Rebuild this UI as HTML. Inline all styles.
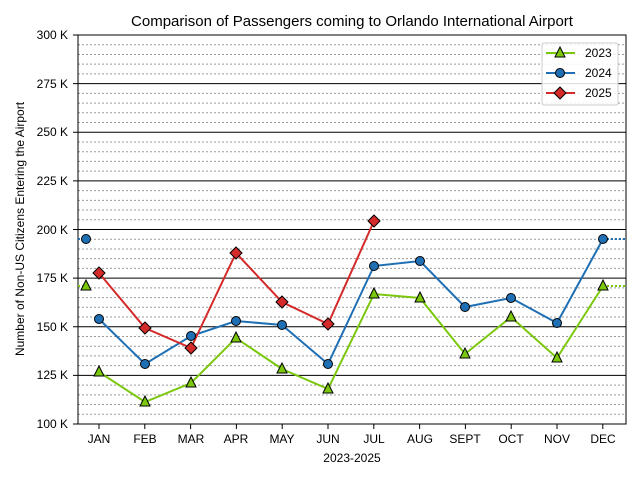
<!DOCTYPE html>
<html><head><style>body{margin:0;background:#fff}svg{display:block;font-family:"Liberation Sans",sans-serif}</style></head><body>
<svg width="640" height="480" xmlns="http://www.w3.org/2000/svg">
<rect width="640" height="480" fill="#fff"/>
<g id="minor" stroke="#999" stroke-dasharray="2,2" stroke-width="1">
</g>
<script>
var g=document.getElementById('minor'),ns="http://www.w3.org/2000/svg";
for(var v=100;v<=300;v+=5){var y=424-(v-100)*389/200;var l=document.createElementNS(ns,'line');l.setAttribute('x1',78);l.setAttribute('x2',626);l.setAttribute('y1',y);l.setAttribute('y2',y);
if(v%25==0){l.setAttribute('stroke','#000');l.setAttribute('stroke-dasharray','none');l.setAttribute('x1',73);}g.appendChild(l);}
for(var i=0;i<12;i++){var x=99+45.8*i;var t=document.createElementNS(ns,'line');t.setAttribute('x1',x);t.setAttribute('x2',x);t.setAttribute('y1',424);t.setAttribute('y2',429);t.setAttribute('stroke','#000');t.setAttribute('stroke-dasharray','none');g.appendChild(t);}
</script>
<rect x="78" y="35" width="548" height="389" fill="none" stroke="#000"/>
<g font-size="12" text-anchor="end" fill="#000">
<text x="68" y="39">300 K</text><text x="68" y="88">275 K</text><text x="68" y="136">250 K</text><text x="68" y="185">225 K</text><text x="68" y="234">200 K</text><text x="68" y="282">175 K</text><text x="68" y="331">150 K</text><text x="68" y="379">125 K</text><text x="68" y="428">100 K</text>
</g>
<g font-size="12" text-anchor="middle">
<text x="99" y="443">JAN</text><text x="145" y="443">FEB</text><text x="191" y="443">MAR</text><text x="236" y="443">APR</text><text x="282" y="443">MAY</text><text x="328" y="443">JUN</text><text x="374" y="443">JUL</text><text x="420" y="443">AUG</text><text x="465" y="443">SEPT</text><text x="511" y="443">OCT</text><text x="557" y="443">NOV</text><text x="603" y="443">DEC</text>
<text x="352" y="462">2023-2025</text>
<text x="352" y="26" font-size="15">Comparison of Passengers coming to Orlando International Airport</text>
<text transform="translate(24,229) rotate(-90)" font-size="12">Number of Non-US Citizens Entering the Airport</text>
</g>
<g stroke-width="1">
<line x1="78" y1="286" x2="86" y2="286" stroke="#7ac70c" stroke-dasharray="2,2" stroke-width="2"/>
<line x1="78" y1="239" x2="86" y2="239" stroke="#1f6fb5" stroke-dasharray="2,2" stroke-width="2"/>
<line x1="603" y1="286" x2="626" y2="286" stroke="#7ac70c" stroke-dasharray="2,2" stroke-width="2"/>
<line x1="603" y1="239" x2="626" y2="239" stroke="#1f6fb5" stroke-dasharray="2,2" stroke-width="2"/>
</g>
<polyline fill="none" stroke="#7ac70c" stroke-width="2" points="99,372 145,402 191,383 236,338 282,369 328,389 374,294 420,298 465,354 511,317 557,358 603,286"/>
<polyline fill="none" stroke="#1f6fb5" stroke-width="2" points="99,319 145,364 191,336 236,321 282,325 328,364 374,266 420,261 465,307 511,298 557,323 603,239"/>
<polyline fill="none" stroke="#d42a2a" stroke-width="2" points="99,273 145,328 191,348 236,253 282,302 328,324 374,221"/>
<g fill="#7ac70c" stroke="#000" stroke-width="1">
<script>
(function(){var pts=[[86,286],[99,372],[145,402],[191,383],[236,338],[282,369],[328,389],[374,294],[420,298],[465,354],[511,317],[557,358],[603,286]];var s=document.currentScript.parentNode;
pts.forEach(function(p){var e=document.createElementNS("http://www.w3.org/2000/svg",'polygon');e.setAttribute('points',(p[0])+','+(p[1]-6)+' '+(p[0]-5)+','+(p[1]+4)+' '+(p[0]+5)+','+(p[1]+4));s.appendChild(e);});})();
</script>
</g>
<g fill="#1f6fb5" stroke="#000" stroke-width="1">
<circle cx="86" cy="239" r="4.5"/><circle cx="99" cy="319" r="4.5"/><circle cx="145" cy="364" r="4.5"/><circle cx="191" cy="336" r="4.5"/><circle cx="236" cy="321" r="4.5"/><circle cx="282" cy="325" r="4.5"/><circle cx="328" cy="364" r="4.5"/><circle cx="374" cy="266" r="4.5"/><circle cx="420" cy="261" r="4.5"/><circle cx="465" cy="307" r="4.5"/><circle cx="511" cy="298" r="4.5"/><circle cx="557" cy="323" r="4.5"/><circle cx="603" cy="239" r="4.5"/>
</g>
<g fill="#d42a2a" stroke="#000" stroke-width="1">
<script>
(function(){var pts=[[99,273],[145,328],[191,348],[236,253],[282,302],[328,324],[374,221]];var s=document.currentScript.parentNode;
pts.forEach(function(p){var e=document.createElementNS("http://www.w3.org/2000/svg",'polygon');var x=p[0],y=p[1];e.setAttribute('points',x+','+(y-6)+' '+(x+6)+','+y+' '+x+','+(y+6)+' '+(x-6)+','+y);s.appendChild(e);});})();
</script>
</g>
<rect x="542" y="43" width="76" height="62" rx="2" fill="#fff" fill-opacity="0.85" stroke="#ccc"/>
<line x1="546" y1="53" x2="575" y2="53" stroke="#7ac70c" stroke-width="2"/>
<polygon points="560,47 555,57 565,57" fill="#7ac70c" stroke="#000"/>
<line x1="546" y1="73" x2="575" y2="73" stroke="#1f6fb5" stroke-width="2"/>
<circle cx="560" cy="73" r="4.5" fill="#1f6fb5" stroke="#000"/>
<line x1="546" y1="93" x2="575" y2="93" stroke="#d42a2a" stroke-width="2"/>
<polygon points="560,87 566,93 560,99 554,93" fill="#d42a2a" stroke="#000"/>
<g font-size="12"><text x="585" y="57">2023</text><text x="585" y="77">2024</text><text x="585" y="97">2025</text></g>
</svg>
</body></html>
